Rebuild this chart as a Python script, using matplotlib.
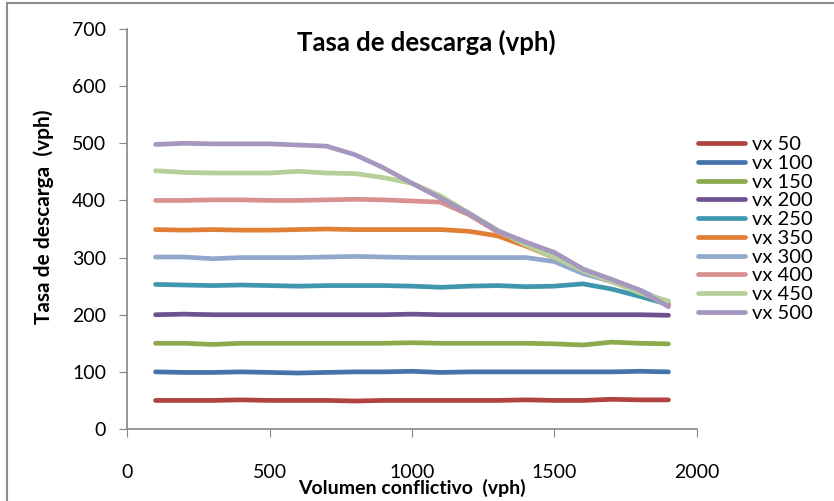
import matplotlib.pyplot as plt
from matplotlib.patches import Rectangle

plt.rcParams['font.family'] = ['Lato', 'DejaVu Sans']

volumen = [100, 200, 300, 400, 500, 600, 700, 800, 900, 1000,
           1100, 1200, 1300, 1400, 1500, 1600, 1700, 1800, 1900]

vx50 = [50, 50, 50, 51, 50, 50, 50, 49, 50, 50, 50, 50, 50, 51, 50, 50, 52, 51, 51]
vx100 = [100, 99, 99, 100, 99, 98, 99, 100, 100, 101, 99, 100, 100, 100, 100, 100, 100, 101, 100]
vx150 = [150, 150, 148, 150, 150, 150, 150, 150, 150, 151, 150, 150, 150, 150, 149, 147, 152, 150, 149]
vx200 = [200, 201, 200, 200, 200, 200, 200, 200, 200, 201, 200, 200, 200, 200, 200, 200, 200, 200, 199]
vx250 = [253, 252, 251, 252, 251, 250, 251, 251, 251, 250, 248, 250, 251, 249, 250, 254, 245, 232, 218]
vx350 = [349, 348, 349, 348, 348, 349, 350, 349, 349, 349, 349, 346, 338, 320, 300, 279, 260, 240, 218]
vx300 = [301, 301, 298, 300, 300, 300, 301, 302, 301, 300, 300, 300, 300, 300, 293, 272, 258, 243, 220]
vx400 = [400, 400, 401, 401, 400, 400, 401, 402, 401, 399, 397, 375, 345, 325, 305, 277, 258, 240, 216]
vx450 = [452, 449, 448, 448, 448, 451, 448, 447, 440, 430, 408, 378, 348, 322, 300, 277, 258, 238, 224]
vx500 = [498, 500, 499, 499, 499, 497, 495, 480, 457, 430, 404, 377, 347, 327, 309, 280, 262, 243, 214]

series = [('vx 50', vx50, '#B0433F'), ('vx 100', vx100, '#4473AB'),
          ('vx 150', vx150, '#8BAA4B'), ('vx 200', vx200, '#6F5290'),
          ('vx 250', vx250, '#3E97AE'), ('vx 350', vx350, '#E07F36'),
          ('vx 300', vx300, '#8FA8CC'), ('vx 400', vx400, '#D89190'),
          ('vx 450', vx450, '#B7CF98'), ('vx 500', vx500, '#A697BE')]

fig = plt.figure(figsize=(8.34, 5.01), dpi=100)
ax = fig.add_axes([0.1523, 0.1437, 0.6834, 0.7984])

for name, vals, col in series:
    ax.plot(volumen, vals, color=col, lw=3.4, label=name,
            solid_capstyle='round', solid_joinstyle='round')

ax.set_xlim(0, 2000)
ax.set_ylim(0, 700)
ax.set_xticks([0, 500, 1000, 1500, 2000])
ax.set_yticks(range(0, 701, 100))
for s in ['top', 'right']:
    ax.spines[s].set_visible(False)
for s in ['left', 'bottom']:
    ax.spines[s].set_color('#868686')
    ax.spines[s].set_linewidth(1.2)
ax.tick_params(axis='x', direction='out', length=6, color='#868686', pad=19, labelsize=14)
ax.tick_params(axis='y', direction='out', length=6, color='#868686', pad=9, labelsize=14)

ax.set_title('Tasa de descarga (vph)', fontsize=18.5, fontweight='bold', x=0.525, y=0.925)
ax.set_xlabel('Volumen conflictivo  (vph)', fontsize=14, fontweight='bold')
ax.xaxis.set_label_coords(0.5, -0.125)
ax.set_ylabel('Tasa de descarga  (vph)', fontsize=15, fontweight='bold')
ax.yaxis.set_label_coords(-0.128, 0.53)

ax.legend(loc='upper left', bbox_to_anchor=(0.837, 0.728), bbox_transform=fig.transFigure,
          frameon=False, fontsize=14.5, handlelength=2.35, handletextpad=0.35,
          labelspacing=0.08, borderpad=0, borderaxespad=0)

# chart frame and the cut-off outer title
fig.patches.append(Rectangle((7 / 834, -0.1), 1.2, 1.1 - 3 / 501, transform=fig.transFigure,
                             fill=False, edgecolor='#8c8c8c', lw=1.5))
fig.text(0.54, 1.0 + 6 / 501, 'Tasa de descarga (vph) y volumen', ha='center', va='baseline',
         fontsize=18.5, fontweight='bold')

fig.savefig('out.png', dpi=100)
